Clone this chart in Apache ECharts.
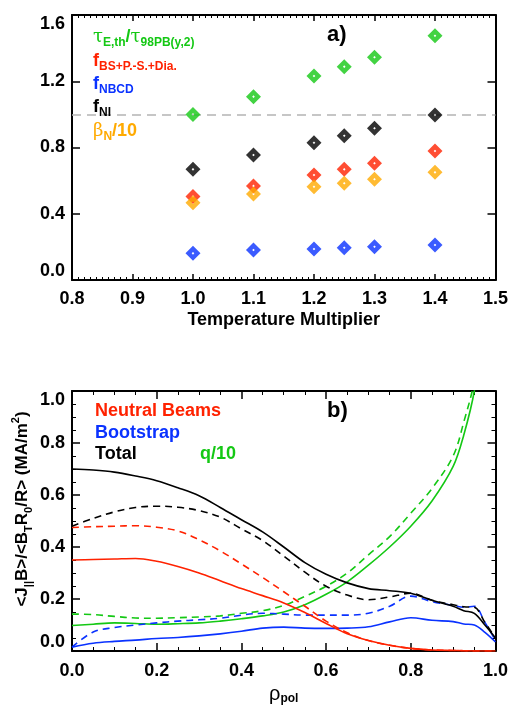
<!DOCTYPE html>
<html>
<head>
<meta charset="utf-8">
<script src="https://cdn.jsdelivr.net/npm/echarts@6/dist/echarts.min.js"></script>
<style>
  html, body { margin: 0; padding: 0; background: #fff; }
  #chart { width: 511px; height: 706px; }
</style>
</head>
<body>
<div id="chart"></div>
<script>
// ---- Panel a): scan over the temperature multiplier ----
const tempMult  = [1.0, 1.1, 1.2, 1.25, 1.3, 1.4];
const tauRatio  = [1.00, 1.107, 1.232, 1.288, 1.345, 1.475];
const fBootstrap = [0.504, 0.568, 0.634, 0.668, 0.705, 0.779];
const fNBCD     = [0.161, 0.181, 0.187, 0.195, 0.201, 0.211];
const fNI       = [0.668, 0.755, 0.829, 0.871, 0.916, 0.996];
const betaN10   = [0.467, 0.519, 0.563, 0.584, 0.608, 0.650];
const refLevel  = 1.0;

// ---- Panel b): current density profiles vs rho_pol ----
const rho = [0, 0.05, 0.1, 0.15, 0.2, 0.25, 0.3, 0.35, 0.4, 0.45, 0.5, 0.55, 0.6, 0.65, 0.7, 0.75, 0.8, 0.85, 0.9, 0.925, 0.95, 0.975, 1.0];
const nbSolid   = [0.350, 0.352, 0.354, 0.356, 0.345, 0.325, 0.300, 0.270, 0.240, 0.213, 0.185, 0.148, 0.106, 0.066, 0.040, 0.022, 0.010, 0.004, 0.002, 0.001, 0.000, 0.000, 0.000];
const nbDashed  = [0.475, 0.478, 0.480, 0.482, 0.476, 0.462, 0.428, 0.385, 0.335, 0.283, 0.228, 0.172, 0.115, 0.070, 0.040, 0.022, 0.010, 0.004, 0.002, 0.001, 0.000, 0.000, 0.000];
const bsSolid   = [0.015, 0.030, 0.037, 0.042, 0.048, 0.052, 0.058, 0.066, 0.076, 0.088, 0.092, 0.088, 0.087, 0.088, 0.093, 0.112, 0.128, 0.118, 0.113, 0.104, 0.100, 0.072, 0.035];
const bsDashed  = [0.015, 0.073, 0.090, 0.100, 0.108, 0.115, 0.120, 0.126, 0.138, 0.145, 0.142, 0.138, 0.138, 0.138, 0.145, 0.172, 0.211, 0.190, 0.175, 0.168, 0.172, 0.110, 0.040];
const totSolid  = [0.700, 0.696, 0.688, 0.673, 0.655, 0.628, 0.597, 0.552, 0.505, 0.458, 0.400, 0.340, 0.295, 0.262, 0.240, 0.232, 0.222, 0.195, 0.172, 0.155, 0.145, 0.100, 0.050];
const totDashed = [0.480, 0.510, 0.535, 0.552, 0.557, 0.553, 0.540, 0.515, 0.470, 0.425, 0.365, 0.303, 0.249, 0.215, 0.197, 0.208, 0.222, 0.195, 0.178, 0.170, 0.168, 0.110, 0.050];
const q10Solid  = [0.098, 0.103, 0.108, 0.106, 0.103, 0.105, 0.108, 0.115, 0.124, 0.135, 0.150, 0.178, 0.218, 0.266, 0.330, 0.400, 0.480, 0.577, 0.710, 0.830, 1.000, 1.300, 1.700];
const q10Dashed = [0.142, 0.140, 0.133, 0.127, 0.126, 0.128, 0.131, 0.135, 0.145, 0.155, 0.175, 0.210, 0.249, 0.300, 0.370, 0.440, 0.530, 0.625, 0.750, 0.880, 1.040, 1.350, 1.800];

const FONT = 'Liberation Sans';
const C = { green: '#14c814', red: '#ff2200', blue: '#0a32ff', black: '#000000', orange: '#ffaa00', gray: '#b4b4b4' };

// Diamond with a small hollow centre (inner path wound the other way)
const DIAMOND = 'path://M0,-8L8,0L0,8L-8,0Z M0,-1.4L-1.4,0L0,1.4L1.4,0Z';

function pairs(xs, ys) { return xs.map((x, i) => [x, ys[i]]); }

function frameAxis(extra) {
  return Object.assign({
    type: 'value',
    axisLine: { show: true, onZero: false, lineStyle: { color: '#000', width: 2 } },
    axisTick: { show: true, inside: true, length: 8, lineStyle: { color: '#000', width: 1.5 } },
    splitLine: { show: false },
    axisLabel: {
      show: true, color: '#000', fontFamily: FONT, fontWeight: 'bold', fontSize: 18,
      formatter: v => v.toFixed(1)
    }
  }, extra);
}
function noLabels(ax) { ax.axisLabel = Object.assign({}, ax.axisLabel, { show: false }); return ax; }

const sub = (size) => ({ fontFamily: FONT, fontWeight: 'bold', fontSize: size, lineHeight: size, verticalAlign: 'bottom' });
const main = (size) => ({ fontFamily: FONT, fontWeight: 'bold', fontSize: size, lineHeight: 24 });

function legendText(x, y, color, text, rich) {
  const r = {};
  Object.keys(rich).forEach(k => { r[k] = Object.assign({ fill: color }, rich[k]); });
  return { type: 'text', x: x, y: y, style: { text: text, fill: color, rich: r, verticalAlign: 'middle', align: 'left' }, z: 100 };
}

const richA = { m: main(18), s: sub(12), g: Object.assign(main(18), { fontFamily: 'DejaVu Serif', fontWeight: 'normal' }) };

const option = {
  backgroundColor: '#fff',
  animation: false,
  grid: [
    { left: 72, top: 15, width: 425, height: 265 },
    { left: 72, top: 391, width: 425, height: 265 }
  ],
  xAxis: [
    frameAxis({ gridIndex: 0, position: 'bottom', min: 0.8, max: 1.5, interval: 0.1,
      axisTick: { show: true, inside: true, length: 6, lineStyle: { color: '#000', width: 1.5 } },
      minorTick: { show: true, splitNumber: 10, length: 3, lineStyle: { color: '#000', width: 1 } },
      name: 'Temperature Multiplier', nameLocation: 'middle', nameGap: 31,
      nameTextStyle: { fontFamily: FONT, fontWeight: 'bold', fontSize: 18, color: '#000' },
      axisLabel: { color: '#000', fontFamily: FONT, fontWeight: 'bold', fontSize: 18, margin: 10, formatter: v => v.toFixed(1) } }),
    noLabels(frameAxis({ gridIndex: 0, position: 'top', min: 0.8, max: 1.5, interval: 0.1,
      axisTick: { show: true, inside: true, length: 6, lineStyle: { color: '#000', width: 1.5 } },
      minorTick: { show: true, splitNumber: 10, length: 3, lineStyle: { color: '#000', width: 1 } } })),
    frameAxis({ gridIndex: 1, position: 'bottom', min: 0, max: 1, interval: 0.2,
      minorTick: { show: true, splitNumber: 4, length: 4, lineStyle: { color: '#000', width: 1 } },
      name: '{r|ρ}{s|pol}', nameLocation: 'middle', nameGap: 32,
      nameTextStyle: { color: '#000', rich: {
        r: { fontFamily: FONT, fontWeight: 'normal', fontSize: 20, lineHeight: 22, color: '#000' },
        s: { fontFamily: FONT, fontWeight: 'bold', fontSize: 12, lineHeight: 12, verticalAlign: 'bottom', color: '#000' } } },
      axisLabel: { color: '#000', fontFamily: FONT, fontWeight: 'bold', fontSize: 18, margin: 11, formatter: v => v.toFixed(1) } }),
    noLabels(frameAxis({ gridIndex: 1, position: 'top', min: 0, max: 1, interval: 0.2,
      minorTick: { show: true, splitNumber: 4, length: 4, lineStyle: { color: '#000', width: 1 } } }))
  ],
  yAxis: [
    frameAxis({ gridIndex: 0, position: 'left', min: 0, max: 1.6, interval: 0.4,
      axisLabel: { color: '#000', fontFamily: FONT, fontWeight: 'bold', fontSize: 18, margin: 7,
        verticalAlignMaxLabel: 'top', verticalAlignMinLabel: 'bottom', formatter: v => v.toFixed(1) } }),
    noLabels(frameAxis({ gridIndex: 0, position: 'right', min: 0, max: 1.6, interval: 0.4 })),
    frameAxis({ gridIndex: 1, position: 'left', min: 0, max: 1, interval: 0.2,
      minorTick: { show: true, splitNumber: 4, length: 4, lineStyle: { color: '#000', width: 1 } },
      axisLabel: { color: '#000', fontFamily: FONT, fontWeight: 'bold', fontSize: 18, margin: 7,
        verticalAlignMaxLabel: 'top', verticalAlignMinLabel: 'bottom', formatter: v => v.toFixed(1) } }),
    noLabels(frameAxis({ gridIndex: 1, position: 'right', min: 0, max: 1, interval: 0.2,
      minorTick: { show: true, splitNumber: 4, length: 4, lineStyle: { color: '#000', width: 1 } } }))
  ],
  series: [
    // panel a
    { type: 'scatter', xAxisIndex: 0, yAxisIndex: 0, symbol: DIAMOND, symbolSize: 15,
      itemStyle: { color: C.green }, data: pairs(tempMult, tauRatio), z: 5,
      markLine: { silent: true, symbol: 'none', label: { show: false },
        lineStyle: { color: C.gray, type: [9, 6], width: 1.5 }, data: [{ yAxis: refLevel }] } },
    { type: 'scatter', xAxisIndex: 0, yAxisIndex: 0, symbol: DIAMOND, symbolSize: 15,
      itemStyle: { color: C.red }, data: pairs(tempMult, fBootstrap), z: 5 },
    { type: 'scatter', xAxisIndex: 0, yAxisIndex: 0, symbol: DIAMOND, symbolSize: 15,
      itemStyle: { color: C.blue }, data: pairs(tempMult, fNBCD), z: 5 },
    { type: 'scatter', xAxisIndex: 0, yAxisIndex: 0, symbol: DIAMOND, symbolSize: 15,
      itemStyle: { color: C.black }, data: pairs(tempMult, fNI), z: 5 },
    { type: 'scatter', xAxisIndex: 0, yAxisIndex: 0, symbol: DIAMOND, symbolSize: 15,
      itemStyle: { color: C.orange }, data: pairs(tempMult, betaN10), z: 6 },
    // panel b
    ...[
      [q10Solid, C.green, 'solid'], [q10Dashed, C.green, [7, 5]],
      [bsSolid, C.blue, 'solid'], [bsDashed, C.blue, [7, 5]],
      [nbSolid, C.red, 'solid'], [nbDashed, C.red, [7, 5]],
      [totSolid, C.black, 'solid'], [totDashed, C.black, [7, 5]]
    ].map(([ys, col, dash]) => ({
      type: 'line', xAxisIndex: 2, yAxisIndex: 2, data: pairs(rho, ys), showSymbol: false,
      smooth: 0.35, clip: true, lineStyle: { color: col, width: 1.6, type: dash }
    }))
  ],
  graphic: [
    // panel a legend
    legendText(93, 37, C.green, '{g|τ}{s|E,th}{m|/}{g|τ}{s|98PB(y,2)}', richA),
    legendText(93, 61, C.red, '{m|f}{s|BS+P.-S.+Dia.}', richA),
    legendText(93, 84, C.blue, '{m|f}{s|NBCD}', richA),
    legendText(93, 107, C.black, '{m|f}{s|NI}', richA),
    legendText(93, 131, C.orange, '{g|β}{s|N}{m|/10}', richA),
    { type: 'text', x: 327, y: 35, z: 100, style: { text: 'a)', fill: '#000', font: 'bold 22px "Liberation Sans"', verticalAlign: 'middle' } },
    // panel b legend
    { type: 'text', x: 95, y: 411, z: 100, style: { text: 'Neutral Beams', fill: C.red, font: 'bold 18px "Liberation Sans"', verticalAlign: 'middle' } },
    { type: 'text', x: 95, y: 433, z: 100, style: { text: 'Bootstrap', fill: C.blue, font: 'bold 18px "Liberation Sans"', verticalAlign: 'middle' } },
    { type: 'text', x: 95, y: 454, z: 100, style: { text: 'Total', fill: C.black, font: 'bold 18px "Liberation Sans"', verticalAlign: 'middle' } },
    { type: 'text', x: 200, y: 454, z: 100, style: { text: 'q/10', fill: C.green, font: 'bold 18px "Liberation Sans"', verticalAlign: 'middle' } },
    { type: 'text', x: 327, y: 411, z: 100, style: { text: 'b)', fill: '#000', font: 'bold 22px "Liberation Sans"', verticalAlign: 'middle' } },
    // panel b vertical axis title
    { type: 'text', x: 22, y: 509, rotation: Math.PI / 2, z: 100,
      style: { text: '{m|<J}{s|||}{m|B>/<B}{s|T}{m|R}{s|0}{m|/R> (MA/m}{p|2}{m|)}',
        fill: '#000', align: 'center', verticalAlign: 'middle',
        rich: {
          m: { fill: '#000', fontFamily: FONT, fontWeight: 'bold', fontSize: 17, lineHeight: 24 },
          s: { fill: '#000', fontFamily: FONT, fontWeight: 'bold', fontSize: 11, lineHeight: 11, verticalAlign: 'bottom' },
          p: { fill: '#000', fontFamily: FONT, fontWeight: 'bold', fontSize: 11, lineHeight: 11, verticalAlign: 'top' }
        } } }
  ]
};

const chart = echarts.init(document.getElementById('chart'), null, { renderer: 'canvas' });
chart.setOption(option);
</script>
</body>
</html>
